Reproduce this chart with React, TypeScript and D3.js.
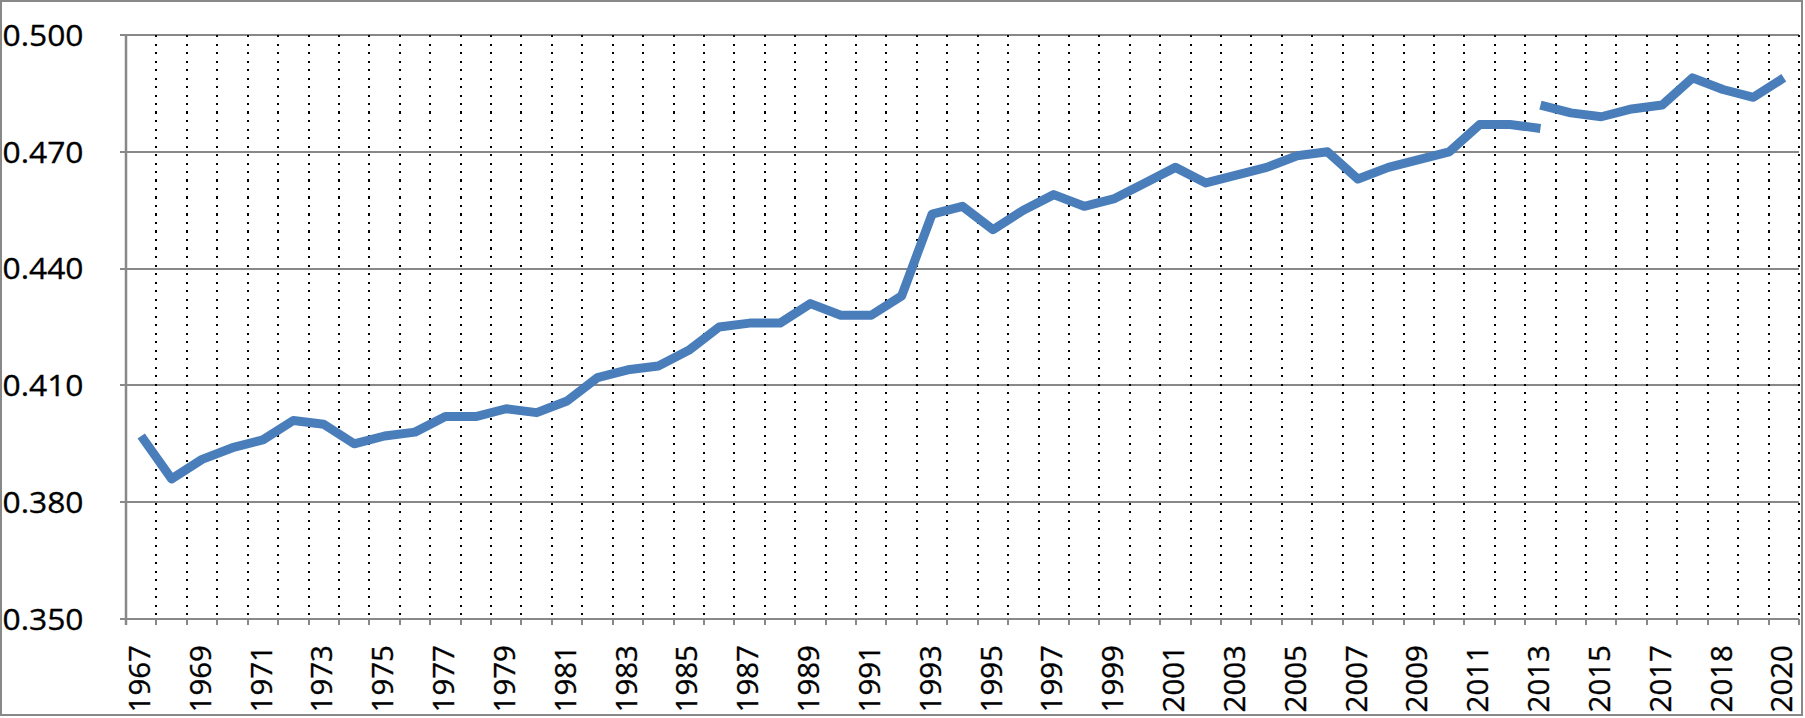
import React from "react";
import * as d3 from "d3";

const years: string[] = [
  "1967","1968","1969","1970","1971","1972","1973","1974","1975","1976",
  "1977","1978","1979","1980","1981","1982","1983","1984","1985","1986",
  "1987","1988","1989","1990","1991","1992","1993","1994","1995","1996",
  "1997","1998","1999","2000","2001","2002","2003","2004","2005","2006",
  "2007","2008","2009","2010","2011","2012","2013","2014","2015","2016",
  "2017","2017","2018","2019","2020",
];

// Gini index, old methodology (1967–2013)
const giniOld: (number | null)[] = [
  0.397,0.386,0.391,0.394,0.396,0.401,0.400,0.395,0.397,0.398,
  0.402,0.402,0.404,0.403,0.406,0.412,0.414,0.415,0.419,0.425,
  0.426,0.426,0.431,0.428,0.428,0.433,0.454,0.456,0.450,0.455,
  0.459,0.456,0.458,0.462,0.466,0.462,0.464,0.466,0.469,0.470,
  0.463,0.466,0.468,0.470,0.477,0.477,0.476,
  null,null,null,null,null,null,null,null,
];

// Gini index, redesigned questionnaire (2013–2020)
const giniNew: (number | null)[] = [
  ...Array(46).fill(null),
  0.482,0.480,0.479,0.481,0.482,0.489,0.486,0.484,0.489,
];

const yTicks: number[] = [0.35, 0.38, 0.41, 0.44, 0.47, 0.5];

const W = 1805;
const H = 718;
const M = { left: 126, right: 1799, top: 35, bottom: 619 };
const GRID = "#888888";
const LINE = "#4a7ebb";
const FONT = "'Open Sans', 'Liberation Sans', Arial, sans-serif";

export default function App() {
  const idx = d3.range(years.length);
  const x = d3.scaleBand<number>().domain(idx).range([M.left, M.right]).padding(0);
  const y = d3.scaleLinear().domain([0.35, 0.5]).range([M.bottom, M.top]);
  const bw = x.bandwidth();
  const cx = (i: number) => (x(i) as number) + bw / 2;

  const line = d3
    .line<number | null>()
    .defined((d) => d != null)
    .x((_, i) => cx(i))
    .y((d) => y(d as number));

  const boundaries = d3.range(years.length + 1).map((i) => Math.round(M.left + i * bw));
  const gy = (t: number) => Math.round(y(t));

  return (
    <svg
      width={W}
      height={H}
      style={{ position: "absolute", left: 0, top: 0, display: "block", background: "#fff" }}
    >
      <rect x={0} y={0} width={W} height={H} fill="#fff" />
      {/* horizontal gridlines */}
      {yTicks.map((t) => (
        <line key={"g" + t} x1={M.left - 6} x2={M.right} y1={gy(t)} y2={gy(t)} stroke={GRID} strokeWidth={2} />
      ))}
      {/* y axis */}
      <line x1={M.left} x2={M.left} y1={M.top} y2={M.bottom + 6} stroke={GRID} strokeWidth={2.5} />
      {/* x ticks */}
      {boundaries.map((bx, i) => (
        <line key={"t" + i} x1={bx} x2={bx} y1={M.bottom} y2={M.bottom + 6} stroke={GRID} strokeWidth={2} />
      ))}
      {/* dotted vertical gridlines */}
      <g shapeRendering="crispEdges">
        {boundaries.slice(1).map((bx, i) => (
          <line
            key={"d" + i}
            x1={bx}
            x2={bx}
            y1={M.top}
            y2={M.bottom}
            stroke="#000"
            strokeWidth={2}
            strokeDasharray="2.2 6.3"
          />
        ))}
      </g>
      {/* y labels */}
      {yTicks.map((t) => (
        <text
          key={"yl" + t}
          x={2.5}
          y={y(t)}
          dy="0.36em"
          fontFamily={FONT}
          fontSize={30}
          textLength={81}
          lengthAdjust="spacingAndGlyphs"
          fill="#000"
          stroke="#000"
          strokeWidth={0.35}
        >
          {t.toFixed(3)}
        </text>
      ))}
      {/* x labels */}
      {idx
        .filter((i) => i % 2 === 0)
        .map((i) => (
          <text
            key={"xl" + i}
            transform={`translate(${cx(i) - 2},${645}) rotate(-90)`}
            dy="0.36em"
            textAnchor="end"
            fontFamily={FONT}
            fontSize={29.5}
            fill="#000"
            stroke="#000"
            strokeWidth={0.35}
          >
            {years[i]}
          </text>
        ))}
      {/* series */}
      <path d={line(giniOld) || ""} fill="none" stroke={LINE} strokeWidth={9} strokeLinejoin="round" strokeLinecap="butt" />
      <path d={line(giniNew) || ""} fill="none" stroke={LINE} strokeWidth={9} strokeLinejoin="round" strokeLinecap="butt" />
      {/* chart border */}
      <rect x={1} y={1} width={1801} height={714} fill="none" stroke={GRID} strokeWidth={2} />
    </svg>
  );
}
